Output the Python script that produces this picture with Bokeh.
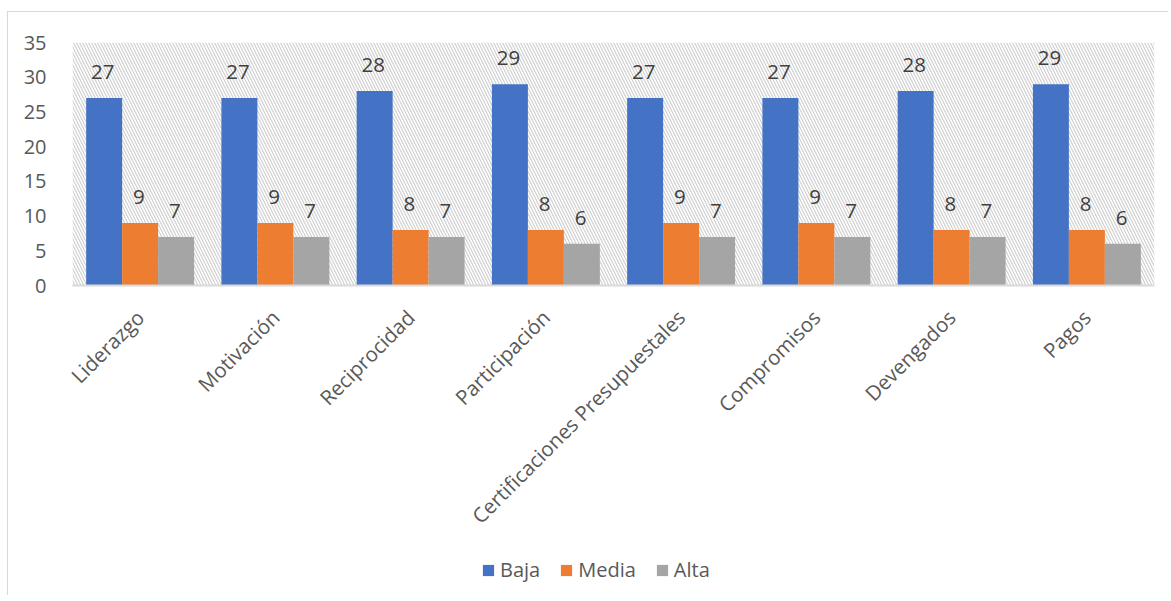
from bokeh.plotting import figure
from bokeh.models import ColumnDataSource, BoxAnnotation, Legend, LegendItem, FixedTicker, LabelSet
from bokeh.layouts import column
from bokeh.transform import dodge
from bokeh.core.properties import value
from bokeh.embed import file_html
from bokeh.resources import INLINE
import math

categories = ["Liderazgo", "Motivación", "Reciprocidad", "Participación",
              "Certificaciones Presupuestales", "Compromisos", "Devengados", "Pagos"]
baja = [27, 27, 28, 29, 27, 27, 28, 29]
media = [9, 9, 8, 8, 9, 9, 8, 8]
alta = [7, 7, 7, 6, 7, 7, 7, 6]
series_names = ["Baja", "Media", "Alta"]
series_colors = ["#4472C4", "#ED7D31", "#A5A5A5"]
y_ticks = [0, 5, 10, 15, 20, 25, 30, 35]

FONT = "Open Sans"
TXT = "#595959"

src = ColumnDataSource(dict(cat=categories, Baja=baja, Media=media, Alta=alta,
                            lb=[str(v) for v in baja], lm=[str(v) for v in media],
                            la=[str(v) for v in alta]))

p = figure(x_range=categories, y_range=(0, 35), width=1160, height=533,
           output_backend="svg", toolbar_location=None,
           min_border_left=64, min_border_right=14, min_border_top=30, min_border_bottom=260)

p.add_layout(BoxAnnotation(fill_color=None, fill_alpha=0, line_color=None,
                           hatch_pattern="\\", hatch_color="#d0d0d0", hatch_scale=6,
                           hatch_weight=1.2, level="underlay"))

w = 0.266
offsets = [-w, 0.0, w]
label_cols = ["lb", "lm", "la"]
renderers = []
for name, col, off, lc in zip(series_names, series_colors, offsets, label_cols):
    r = p.vbar(x=dodge("cat", off, range=p.x_range), top=name, width=w, source=src,
               fill_color=col, line_color=None)
    renderers.append(r)
    labels = LabelSet(x=dodge("cat", off - 0.01, range=p.x_range), y=name, text=lc,
                      source=src, text_align="center", text_baseline="alphabetic",
                      y_offset=19, text_font=value(FONT), text_font_size="20.5px",
                      text_color="#404040")
    p.add_layout(labels)

p.xgrid.visible = False
p.ygrid.visible = False
p.outline_line_color = None

p.yaxis.ticker = FixedTicker(ticks=y_ticks)
p.yaxis.axis_line_color = None
p.yaxis.major_tick_line_color = None
p.yaxis.minor_tick_line_color = None
p.yaxis.major_label_standoff = 20
p.yaxis.major_label_text_font = FONT
p.yaxis.major_label_text_font_size = "20px"
p.yaxis.major_label_text_color = TXT

p.xaxis.axis_line_color = "#d9d9d9"
p.xaxis.axis_line_width = 2
p.xaxis.major_tick_line_color = None
p.xaxis.minor_tick_line_color = None
p.xaxis.major_label_orientation = math.pi / 4
p.xaxis.major_label_standoff = 22
p.xaxis.major_label_text_font = FONT
p.xaxis.major_label_text_font_size = "20.5px"
p.xaxis.major_label_text_color = TXT

# legend strip (glyphs placed outside the visible range; only the legend shows)
p2 = figure(width=1160, height=50, x_range=(0, 1), y_range=(0, 1),
            output_backend="svg", toolbar_location=None,
            min_border_left=0, min_border_right=0, min_border_top=0, min_border_bottom=0)
p2.axis.visible = False
p2.grid.visible = False
p2.outline_line_color = None
leg_rs = [p2.vbar(x=[-10], top=[-10], width=0.1, fill_color=c, line_color=None)
          for c in series_colors]
legend = Legend(items=[LegendItem(label=n, renderers=[r]) for n, r in zip(series_names, leg_rs)],
                orientation="horizontal", location=(409, 12),
                glyph_width=14, glyph_height=14, label_text_font=FONT,
                label_text_font_size="20px", label_text_color=TXT,
                border_line_color=None, background_fill_alpha=0, spacing=19,
                label_standoff=5, padding=0, margin=0)
p2.add_layout(legend, "center")

layout = column(p, p2, spacing=0,
                styles={"border-left": "1px solid #d9d9d9", "border-top": "1px solid #d9d9d9",
                        "margin-left": "7px", "margin-top": "11px"})

open("out.html", "w").write(file_html(layout, INLINE))
